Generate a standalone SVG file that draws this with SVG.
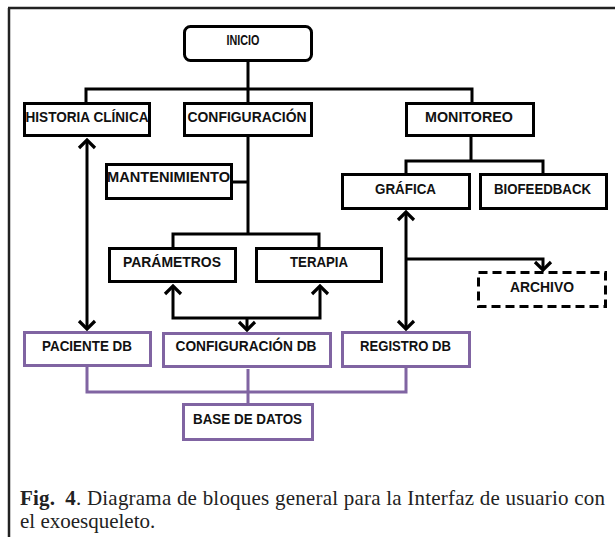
<svg xmlns="http://www.w3.org/2000/svg" width="615" height="537" viewBox="0 0 615 537">
<style>
.box{fill:#fff;stroke:#000;stroke-width:3}
.db{fill:#fff;stroke:#8064A2;stroke-width:3}
.lbl{font-family:"Liberation Sans",Arial,sans-serif;font-weight:bold;font-size:15px;fill:#111;text-anchor:middle}
.con{fill:none;stroke:#000;stroke-width:3}
.pcon{fill:none;stroke:#8064A2;stroke-width:3}
.cap{font-family:"Liberation Serif","Times New Roman",serif;font-size:21px;fill:#222}
</style>
<defs>
<marker id="arr" markerUnits="userSpaceOnUse" viewBox="-12 -10 14 20" refX="0" refY="0" markerWidth="14" markerHeight="20" orient="auto-start-reverse">
<path d="M-8,-8 L0,0 L-8,8" fill="none" stroke="#000" stroke-width="3.2"/>
</marker>
</defs>
<rect width="615" height="537" fill="#fff"/>
<g id="frame">
<path d="M8,8 H615 M9,8 V537" fill="none" stroke="#222" stroke-width="2.5"/>
</g>
<g id="connectors">
<path class="con" d="M248,61 V102 M86,102 V89 H472 V102"/>
<path class="con" d="M248,137 V234 M232,182 H248 M173,247 V234 H319 V247"/>
<path class="con" d="M173,286 V318 H320 V286" marker-start="url(#arr)" marker-end="url(#arr)"/>
<path class="con" d="M247,318 V330" marker-end="url(#arr)"/>
<path class="con" d="M87,140 V329" marker-start="url(#arr)" marker-end="url(#arr)"/>
<path class="con" d="M471,137 V161 M406,174 V161 H543 V174"/>
<path class="con" d="M406,212 V329" marker-start="url(#arr)" marker-end="url(#arr)"/>
<path class="con" d="M406,259 H543 V270" marker-end="url(#arr)"/>
<path class="pcon" d="M87,367 V392 H406 V368 M248,369 V404"/>
</g>
<g id="inicio"><rect class="box" x="184.5" y="26.5" width="127" height="34" rx="6"/><text class="lbl" x="243" y="44.5" textLength="33" lengthAdjust="spacingAndGlyphs">INICIO</text></g>
<g id="historia"><rect class="box" x="24.5" y="103.5" width="125" height="32"/><text class="lbl" x="87" y="121.5" textLength="123" lengthAdjust="spacingAndGlyphs">HISTORIA CLÍNICA</text></g>
<g id="configuracion"><rect class="box" x="184.5" y="103.5" width="127" height="32"/><text class="lbl" x="247" y="121.5" textLength="119" lengthAdjust="spacingAndGlyphs">CONFIGURACIÓN</text></g>
<g id="monitoreo"><rect class="box" x="406.5" y="103.5" width="127" height="32"/><text class="lbl" x="469" y="121.5" textLength="88" lengthAdjust="spacingAndGlyphs">MONITOREO</text></g>
<g id="mantenimiento"><rect class="box" x="106.5" y="164.5" width="125" height="34"/><text class="lbl" x="168.5" y="181.5" textLength="123" lengthAdjust="spacingAndGlyphs">MANTENIMIENTO</text></g>
<g id="grafica"><rect class="box" x="342.5" y="174.5" width="127" height="34"/><text class="lbl" x="405.5" y="193.5" textLength="61" lengthAdjust="spacingAndGlyphs">GRÁFICA</text></g>
<g id="biofeedback"><rect class="box" x="480.5" y="174.5" width="126" height="34"/><text class="lbl" x="542.5" y="193.5" textLength="97" lengthAdjust="spacingAndGlyphs">BIOFEEDBACK</text></g>
<g id="parametros"><rect class="box" x="109.5" y="248.5" width="126" height="33"/><text class="lbl" x="172" y="266.5" textLength="98" lengthAdjust="spacingAndGlyphs">PARÁMETROS</text></g>
<g id="terapia"><rect class="box" x="256.5" y="248.5" width="125" height="33"/><text class="lbl" x="319" y="266.5" textLength="58" lengthAdjust="spacingAndGlyphs">TERAPIA</text></g>
<g id="archivo"><rect class="box" x="478.5" y="272.5" width="127" height="34" stroke-dasharray="9,5"/><text class="lbl" x="542" y="291.5" textLength="64" lengthAdjust="spacingAndGlyphs">ARCHIVO</text></g>
<g id="paciente-db"><rect class="db" x="24.5" y="332.5" width="126" height="33"/><text class="lbl" x="87" y="350.5" textLength="90" lengthAdjust="spacingAndGlyphs">PACIENTE DB</text></g>
<g id="configuracion-db"><rect class="db" x="163.5" y="333.5" width="167" height="33"/><text class="lbl" x="246" y="350.5" textLength="141" lengthAdjust="spacingAndGlyphs">CONFIGURACIÓN DB</text></g>
<g id="registro-db"><rect class="db" x="342.5" y="332.5" width="127" height="34"/><text class="lbl" x="405.5" y="350.5" textLength="91" lengthAdjust="spacingAndGlyphs">REGISTRO DB</text></g>
<g id="base-datos"><rect class="db" x="183.5" y="404.5" width="129" height="35"/><text class="lbl" x="247.5" y="423.5" textLength="109" lengthAdjust="spacingAndGlyphs">BASE DE DATOS</text></g>
<g id="caption">
<text class="cap" x="20" y="505" textLength="585" lengthAdjust="spacing"><tspan font-weight="bold">Fig.</tspan><tspan font-weight="bold" dx="10">4</tspan>. Diagrama de bloques general para la Interfaz de usuario con</text>
<text class="cap" x="20" y="528">el exoesqueleto.</text>
</g>
</svg>
